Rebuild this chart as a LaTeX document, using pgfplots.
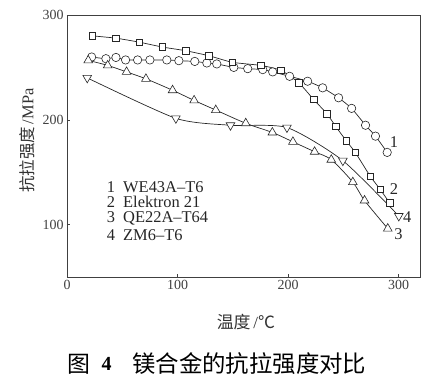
\documentclass[border=0pt]{standalone}
\usepackage{fontspec}
\setmainfont{Liberation Serif}
\newfontfamily\cjk{Noto Sans CJK SC}
\usepackage{pgfplots}
\pgfplotsset{compat=1.18}
\begin{document}
\begin{tikzpicture}
\useasboundingbox (-67bp,-99bp) rectangle (361bp,277bp);
\begin{axis}[
  scale only axis, width=353.7bp, height=262bp,
  xmin=0, xmax=320, ymin=50, ymax=300,
  xtick={0,100,200,300}, ytick={100,200,300},
  tick pos=left, tick align=inside, major tick length=3bp,
  axis line style={black!75, line width=0.6pt},
  tick style={black!75, line width=0.5pt},
  ticklabel style={font=\fontsize{14}{14}\selectfont, text=black!75},
  /pgf/number format/assume math mode=true,
  xlabel={{\cjk 温度}\,/{\cjk ℃}},
  xlabel style={at={(axis description cs:0.506,-0.172)}, anchor=center, font=\fontsize{17}{17}\selectfont, text=black!80},
  ylabel={{\cjk 抗拉强度}\,/MPa},
  ylabel style={at={(axis description cs:-0.113,0.521)}, anchor=center, font=\fontsize{16.5}{16.5}\selectfont, text=black!80},
  every axis plot/.append style={black!85, line width=0.7pt},
  clip=false,
]
% 1 WE43A-T6
\addplot[smooth, tension=0.3, mark=*, mark size=4.2bp, mark options={solid, fill=white, line width=0.6pt}] coordinates {
(22.3,259.9)(35.2,258.3)(44.3,259.5)(53.0,257.1)(63.9,257.1)(75.0,257.1)(90.3,257.1)(101.2,256.4)(115.6,255.7)(126.5,254.2)(135.5,253.3)(150.9,250.0)(163.5,248.8)(177.1,247.9)(186.1,245.7)(201.4,241.5)(217.7,236.8)(231.3,230.5)(245.7,221.0)(257.5,210.9)(270.1,194.8)(279.1,184.4)(289.7,168.9)};
% 2 Elektron 21
\addplot[smooth, tension=0.3, mark=square*, mark size=3.3bp, mark options={solid, fill=white, line width=0.6pt}] coordinates {
(22.9,280.1)(44.3,277.9)(65.3,274.1)(86.4,269.4)(107.5,265.9)(128.5,261.1)(149.7,254.8)(175.5,251.9)(193.6,247.2)(209.8,235.3)(223.1,219.4)(235.1,205.9)(243.0,193.8)(252.7,179.9)(260.8,168.9)(274.3,146.2)(283.4,133.5)(291.8,120.9)};
% 3 QE22A-T64
\addplot[smooth, tension=0.5, mark=triangle*, mark size=5bp, mark options={solid, fill=white, line width=0.6pt}] coordinates {
(19.2,256.7)(36.8,251.9)(53.9,245.7)(71.4,239.1)(95.5,228.2)(115.0,218.5)(134.6,209.3)(161.7,196.7)(185.8,187.9)(204.4,179.0)(224.0,169.5)(239.1,161.9)(258.6,140.5)(269.2,123.0)(290.2,96.2)};
% 4 ZM6-T6
\addplot[smooth, tension=0.4, mark=triangle*, mark size=5bp, mark options={rotate=180, solid, fill=white, line width=0.6pt}] coordinates {
(18.3,240.0)(98.5,201.4)(147.9,194.8)(199.0,192.6)(249.6,161.0)(300.2,108.2)};
\begin{scope}[every node/.style={font=\fontsize{16.5}{16.5}\selectfont, text=black!85, inner sep=0pt}]
\node[anchor=west] at (axis cs:292,178.7) {1};
\node[anchor=west] at (axis cs:292,134.1) {2};
\node[anchor=west] at (axis cs:304,107.6) {4};
\node[anchor=west] at (axis cs:296,90.5) {3};
\node[anchor=west] at (axis cs:36,135.7) {1\hspace{8bp}WE43A–T6};
\node[anchor=west] at (axis cs:36,121.5) {2\hspace{8bp}Elektron 21};
\node[anchor=west] at (axis cs:36,105.7) {3\hspace{8bp}QE22A–T64};
\node[anchor=west] at (axis cs:36,89.9) {4\hspace{8bp}ZM6–T6};
\end{scope}
\end{axis}
\node[anchor=west, inner sep=0pt, font=\fontsize{23}{23}\selectfont\cjk] at (0bp,-87bp) {图};
\node[anchor=center, inner sep=0pt, font=\fontsize{20}{20}\selectfont\bfseries] at (39.5bp,-87bp) {4};
\node[anchor=west, inner sep=0pt, font=\fontsize{23.5}{23.5}\selectfont\cjk] at (65bp,-87bp) {镁合金的抗拉强度对比};
\end{tikzpicture}
\end{document}
